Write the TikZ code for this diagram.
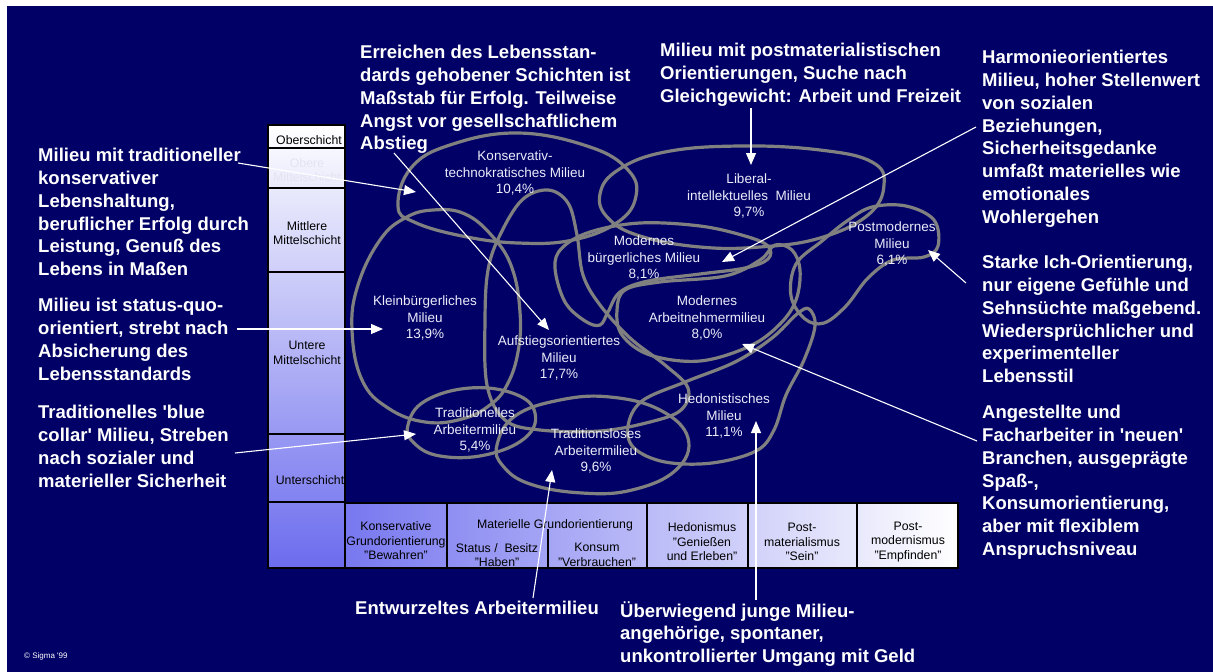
\documentclass[tikz,border=0pt]{standalone}
\usepackage{fontspec}
\setmainfont{Liberation Sans}
\usetikzlibrary{arrows.meta}

\definecolor{navy}{RGB}{0,0,102}
\definecolor{blobgray}{RGB}{128,128,128}
\definecolor{barblue}{RGB}{108,108,238}
\definecolor{barmid}{RGB}{200,200,248}
\definecolor{tableblue}{RGB}{120,120,240}
\definecolor{tablemid}{RGB}{200,200,250}
\definecolor{milieutext}{RGB}{236,236,250}
\definecolor{fadetext}{RGB}{228,228,240}

\tikzset{
  blob/.style={draw=blobgray, line width=3.2pt},
  note/.style={text=white, font=\fontsize{18.5}{22.8}\selectfont\bfseries, align=left, anchor=north west, inner sep=0pt},
  milieu/.style={text=milieutext, font=\fontsize{13.5}{16.5}\selectfont, align=center, inner sep=0pt},
  cell/.style={font=\fontsize{12.3}{14.5}\selectfont, align=center, inner sep=0pt},
  pointer/.style={draw=white, line width=1.1pt, -{Triangle[length=12pt,width=10pt]}},
  cellline/.style={draw=black, line width=1.5pt}
}

\begin{document}
\begin{tikzpicture}[x=1pt, y=-1pt]

        % Page and dark background
        \fill[white] (0,0) rectangle (1213,672);
        \fill[navy] (7,6) rectangle (1213,672);
        \useasboundingbox (0,0) rectangle (1213,672);

        % Social layers bar on the left
        \shade[top color=white, middle color=barmid, bottom color=barblue] (268,125) rectangle (345,568);
        \draw[cellline] (268,125) rectangle (345,568);
        \foreach \yb in {148,188,272,434,502}
            \draw[cellline] (268,\yb) -- (345,\yb);

        \node[cell] (ober) at (309,140) {Oberschicht};
        \node[cell, text=fadetext] (oberemittel) at (307,170) {Obere\\Mittelschicht};
        \node[cell] (mittleremittel) at (307,233) {Mittlere\\Mittelschicht};
        \node[cell] (unteremittel) at (307,353) {Untere\\Mittelschicht};
        \node[cell] (unter) at (310,480) {Unterschicht};

        % Basic orientation table at the bottom
        \shade[left color=tableblue, middle color=tablemid, right color=white] (345,503) rectangle (958,568);
        \draw[cellline] (345,503) rectangle (958,568);
        \foreach \xb in {447,647,748,857}
            \draw[cellline] (\xb,503) -- (\xb,568);
        \draw[cellline] (548,529) -- (548,568);

        \node[cell] (bewahren) at (396,541) {Konservative\\Grundorientierung\\"Bewahren"};
        \node[cell] (materiell) at (555,525) {Materielle Grundorientierung};
        \node[cell] (haben) at (497,555) {Status /\ \ Besitz\\"Haben"};
        \node[cell] (verbrauchen) at (597,555) {Konsum\\"Verbrauchen"};
        \node[cell] (geniessen) at (702,542) {Hedonismus\\"Genießen\\und Erleben"};
        \node[cell] (sein) at (802,542) {Post-\\materialismus\\"Sein"};
        \node[cell] (empfinden) at (908,542) {Post-\\modernismus\\"Empfinden"};

        % Milieu outlines
        \draw[blob] plot[smooth cycle, tension=0.7] coordinates {(398,206) (411,168) (450,145) (518,133) (590,147) (628,170) (636,196) (618,222) (573,240) (518,243) (462,236) (414,222)};
        \draw[blob] plot[smooth cycle, tension=0.7] coordinates {(600,194) (618,170) (665,152) (740,146) (820,150) (872,162) (884,185) (868,215) (820,238) (760,247) (700,247) (640,236) (608,218)};
        \draw[blob] plot[smooth cycle, tension=0.6] coordinates {(555,268) (562,248) (590,232) (640,223) (700,226) (745,236) (768,246) (768,259) (745,268) (700,274) (648,281) (620,292) (608,312) (600,325) (585,321) (565,302)};
        \draw[blob] plot[smooth cycle, tension=0.6] coordinates {(625,290) (660,282) (725,276) (760,260) (775,245) (792,250) (800,270) (796,300) (780,324) (750,346) (700,361) (650,355) (622,335) (617,310)};
        \draw[blob] plot[smooth cycle, tension=0.6] coordinates {(847,221) (872,207) (906,206) (934,220) (938,246) (924,257) (893,260) (868,278) (846,306) (824,323) (805,319) (791,296) (796,264) (822,241)};
        \draw[blob] plot[smooth cycle, tension=0.6] coordinates {(628,426) (642,401) (685,382) (735,362) (772,338) (797,314) (809,309) (815,326) (804,360) (786,395) (774,430) (756,451) (712,463) (665,462) (634,448)};
        \draw[blob] plot[smooth cycle, tension=0.7] coordinates {(433,210) (465,214) (493,237) (512,268) (520,312) (518,352) (507,385) (490,405) (462,419) (425,422) (388,408) (362,380) (352,330) (358,285) (380,240) (405,218)};
        \draw[blob] plot[smooth cycle, tension=0.6] coordinates {(548,190) (568,203) (577,235) (583,275) (600,305) (630,338) (665,365) (688,388) (681,410) (650,422) (600,431) (540,430) (505,420) (487,385) (485,320) (488,270) (500,235) (522,200)};
        \draw[blob] plot[smooth cycle, tension=0.7] coordinates {(408,425) (425,401) (470,388) (515,394) (535,413) (525,438) (485,455) (440,456) (414,443)};
        \draw[blob] plot[smooth cycle, tension=0.7] coordinates {(497,445) (515,416) (560,400) (610,397) (660,410) (688,438) (676,470) (632,490) (582,493) (530,484) (503,466)};

        % Milieu names and shares
        \node[milieu] (konstech) at (515,173) {Konservativ-\\technokratisches Milieu\\10,4\%};
        \node[milieu] (liberal) at (749,196) {Liberal-\\intellektuelles\ \ Milieu\\9,7\%};
        \node[milieu] (modbuerg) at (644,258) {Modernes\\bürgerliches Milieu\\8,1\%};
        \node[milieu] (postmod) at (892,244) {Postmodernes\\Milieu\\6,1\%};
        \node[milieu] (kleinbuerg) at (425,318) {Kleinbürgerliches\\Milieu\\13,9\%};
        \node[milieu] (aufstieg) at (559,358) {Aufstiegsorientiertes\\Milieu\\17,7\%};
        \node[milieu] (modarbeit) at (707,318) {Modernes\\Arbeitnehmermilieu\\8,0\%};
        \node[milieu] (hedon) at (724,416) {Hedonistisches\\Milieu\\11,1\%};
        \node[milieu] (tradarbeit) at (475,430) {Traditionelles\\Arbeitermilieu\\5,4\%};
        \node[milieu] (tradlos) at (596,451) {Traditionsloses\\Arbeitermilieu\\9,6\%};

        % Descriptions
        \node[note] (txtaufstieg) at (360,45) {Erreichen des Lebensstan-\\dards gehobener Schichten ist\\Maßstab für Erfolg. Teilweise\\Angst vor gesellschaftlichem\\Abstieg};
        \node[note] (txtliberal) at (660,43) {Milieu mit postmaterialistischen\\Orientierungen, Suche nach\\Gleichgewicht: Arbeit und Freizeit};
        \node[note] (txtmodbuerg) at (982,50) {Harmonieorientiertes\\Milieu, hoher Stellenwert\\von sozialen\\Beziehungen,\\Sicherheitsgedanke\\umfaßt materielles wie\\emotionales\\Wohlergehen};
        \node[note] (txtpostmod) at (982,255) {Starke Ich-Orientierung,\\nur eigene Gefühle und\\Sehnsüchte maßgebend.\\Wiedersprüchlicher und\\experimenteller\\Lebensstil};
        \node[note] (txtmodarbeit) at (982,405) {Angestellte und\\Facharbeiter in \textquotesingle neuen\textquotesingle\\Branchen, ausgeprägte\\Spaß-,\\Konsumorientierung,\\aber mit flexiblem\\Anspruchsniveau};
        \node[note] (txttradlos) at (355,601) {Entwurzeltes Arbeitermilieu};
        \node[note] (txthedon) at (620,601) {Überwiegend junge Milieu-\\angehörige, spontaner,\\unkontrollierter Umgang mit Geld};
        \node[note] (txtkonstech) at (38,148) {Milieu mit traditioneller\\konservativer\\Lebenshaltung,\\beruflicher Erfolg durch\\Leistung, Genuß des\\Lebens in Maßen};
        \node[note] (txtkleinbuerg) at (38,298) {Milieu ist status-quo-\\orientiert, strebt nach\\Absicherung des\\Lebensstandards};
        \node[note] (txttradarbeit) at (38,405) {Traditionelles \textquotesingle blue\\collar\textquotesingle\ Milieu, Streben\\nach sozialer und\\materieller Sicherheit};

        \node[text=white, font=\fontsize{8}{9}\selectfont, anchor=west, inner sep=0pt] (copyright) at (24,656) {© Sigma \textquotesingle 99};

        % Arrow ends
        \coordinate (fromaufstieg) at (394,153);
        \coordinate (toaufstieg) at (549,330);
        \coordinate (fromliberal) at (751,108);
        \coordinate (toliberal) at (751,165);
        \coordinate (frommodbuerg) at (976,127);
        \coordinate (tomodbuerg) at (722,262);
        \coordinate (frompostmod) at (966,283);
        \coordinate (topostmod) at (928,250);
        \coordinate (frommodarbeit) at (977,441);
        \coordinate (tomodarbeit) at (742,344);
        \coordinate (fromtradlos) at (533,598);
        \coordinate (totradlos) at (552,470);
        \coordinate (fromhedon) at (756,600);
        \coordinate (tohedon) at (756,421);
        \coordinate (fromkonstech) at (238,163);
        \coordinate (tokonstech) at (416,192);
        \coordinate (fromkleinbuerg) at (237,329);
        \coordinate (tokleinbuerg) at (383,329);
        \coordinate (fromtradarbeit) at (235,453);
        \coordinate (totradarbeit) at (416,434);

        % Pointers from descriptions to milieus
        \draw[pointer] (fromaufstieg) -- (toaufstieg);
        \draw[pointer] (fromliberal) -- (toliberal);
        \draw[pointer] (frommodbuerg) -- (tomodbuerg);
        \draw[pointer] (frompostmod) -- (topostmod);
        \draw[pointer] (frommodarbeit) -- (tomodarbeit);
        \draw[pointer] (fromtradlos) -- (totradlos);
        \draw[pointer] (fromhedon) -- (tohedon);
        \draw[pointer] (fromkonstech) -- (tokonstech);
        \draw[pointer] (fromkleinbuerg) -- (tokleinbuerg);
        \draw[pointer] (fromtradarbeit) -- (totradarbeit);

\end{tikzpicture}
\end{document}
